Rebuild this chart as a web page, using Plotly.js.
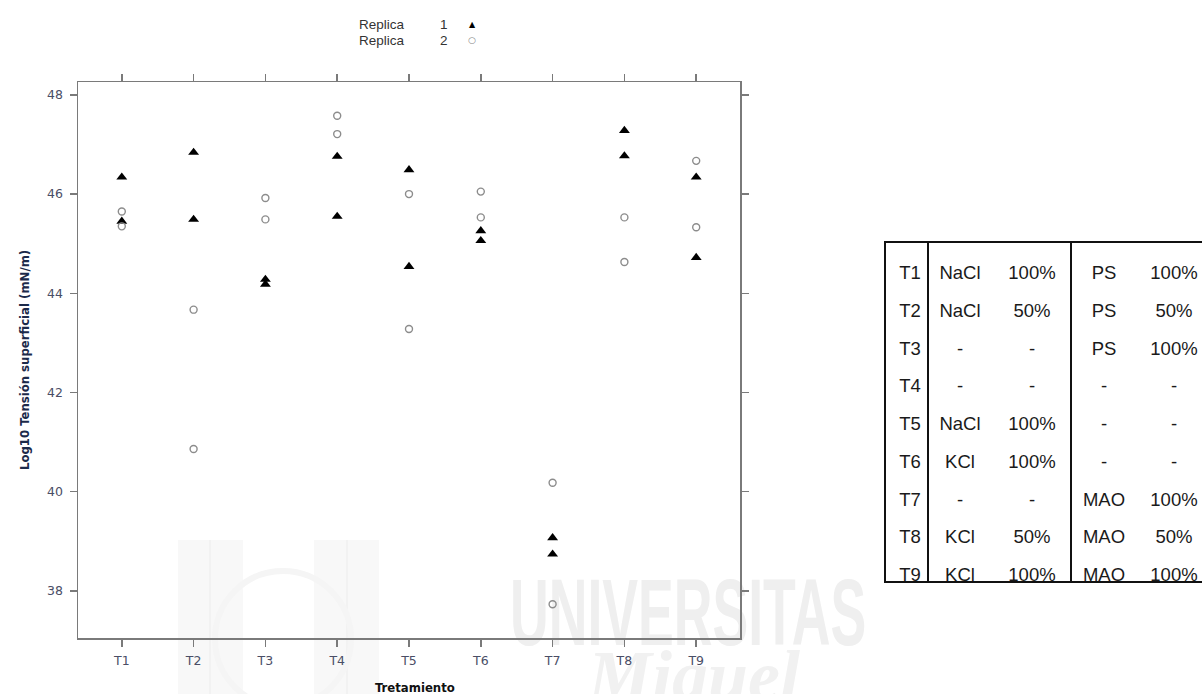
<!DOCTYPE html>
<html><head><meta charset="utf-8">
<script src="https://cdn.plot.ly/plotly-3.0.1.min.js"></script>
<style>
html,body{margin:0;padding:0;background:#fff;width:1202px;height:694px;overflow:hidden;position:relative;font-family:"Liberation Sans",Arial,sans-serif}
#wm{position:absolute;left:0;top:0;width:1202px;height:694px;z-index:0;overflow:hidden}
#plot{position:absolute;left:0;top:0;width:1202px;height:694px;z-index:1}
#tbl{position:absolute;left:0;top:0;width:1202px;height:694px;z-index:2;pointer-events:none}
.wmtxt{position:absolute;white-space:nowrap;color:#efefef;font-family:"Liberation Sans",Arial,sans-serif;font-weight:bold;transform-origin:0 0;line-height:1}
.cell{position:absolute;transform:translate(-50%,-50%);font-family:"Liberation Sans",Arial,sans-serif;font-size:18.5px;color:#1a1a1a;white-space:nowrap}
.ln{position:absolute;background:#111}
</style></head>
<body>
<div id="wm">
  <div style="position:absolute;left:178px;top:540px;width:65px;height:160px;background:#f8f8f8"></div>
  <div style="position:absolute;left:209px;top:540px;width:2px;height:160px;background:#f2f2f2"></div>
  <div style="position:absolute;left:314px;top:540px;width:65px;height:160px;background:#f8f8f8"></div>
  <div style="position:absolute;left:346px;top:540px;width:2px;height:160px;background:#f2f2f2"></div>
  <div style="position:absolute;left:212px;top:568px;width:130px;height:130px;border-radius:50%;border:6px solid #f5f5f5"></div>
  <div class="wmtxt" style="left:510px;top:566px;font-size:94px;transform:scaleX(0.57)">UNIVERSITAS</div>
  <div class="wmtxt" style="left:588px;top:640px;font-size:72px;font-style:italic;font-family:'Liberation Serif',serif;color:#f1f1f1">Miguel</div>
</div>
<div id="plot"></div>
<div id="tbl"></div>
<script>
// ---- chart data ----
const categorias = ['T1','T2','T3','T4','T5','T6','T7','T8','T9'];
// Replica 1 (filled triangles): two readings per treatment
const replica1A = [46.34, 46.84, 44.28, 46.76, 46.49, 45.26, 39.07, 47.28, 46.34];
const replica1B = [45.45, 45.49, 44.18, 45.55, 44.54, 45.06, 38.74, 46.77, 44.72];
// Replica 2 (open circles): two readings per treatment
const replica2A = [45.65, 43.67, 45.92, 47.58, 46.00, 46.05, 40.18, 45.53, 46.67];
const replica2B = [45.35, 40.86, 45.49, 47.21, 43.28, 45.53, 37.73, 44.63, 45.33];
const yTicks = [38, 40, 42, 44, 46, 48];
const legendLabels = ['Replica', 'Replica'];
const legendNums = ['1', '2'];

// ---- table data ----
const tabTrat = ['T1','T2','T3','T4','T5','T6','T7','T8','T9'];
const tabSal = ['NaCl','NaCl','-','-','NaCl','KCl','-','KCl','KCl'];
const tabSalPct = ['100%','50%','-','-','100%','100%','-','50%','100%'];
const tabAgente = ['PS','PS','PS','-','-','-','MAO','MAO','MAO'];
const tabAgentePct = ['100%','50%','100%','-','-','-','100%','50%','100%'];

const xs = categorias.concat(categorias);
const traces = [
  {type:'scatter', mode:'markers', x: xs, y: replica1A.concat(replica1B),
   marker:{symbol:'triangle-up', size:9.5, color:'#000'}, hoverinfo:'x+y', showlegend:false},
  {type:'scatter', mode:'markers', x: xs, y: replica2A.concat(replica2B),
   marker:{symbol:'circle-open', size:7, color:'#8c8c8c', line:{width:1.4, color:'#8c8c8c'}}, hoverinfo:'x+y', showlegend:false}
];

const L = 78, R = 740, T = 82, B = 638;
const pw = R - L, ph = B - T;
const px = v => (v - L) / pw;
const py = v => (B - v) / ph;

const ann = [];
ann.push({text:'Log10 Tensión superficial (mN/m)', textangle:-90, xref:'paper', yref:'paper',
  x:px(24), y:py(360), showarrow:false, xanchor:'center', yanchor:'middle',
  font:{family:'DejaVu Sans Condensed, DejaVu Sans, sans-serif', size:13, color:'#1c2a4a', weight:'bold'}});
ann.push({text:'Tretamiento', xref:'paper', yref:'paper', x:px(415), y:py(688), showarrow:false,
  xanchor:'center', yanchor:'middle',
  font:{family:'DejaVu Sans Condensed, DejaVu Sans, sans-serif', size:13, color:'#111', weight:'bold'}});
const rowY = [24.5, 40];
const syms = ['▲','○'];
const symCol = ['#000','#888'];
for (let i = 0; i < 2; i++) {
  ann.push({text:legendLabels[i], xref:'paper', yref:'paper', x:px(407), y:py(rowY[i]), showarrow:false,
    xanchor:'right', yanchor:'middle', font:{family:'Liberation Sans, Arial, sans-serif', size:13.5, color:'#333'}});
  ann.push({text:legendNums[i], xref:'paper', yref:'paper', x:px(444), y:py(rowY[i]), showarrow:false,
    xanchor:'center', yanchor:'middle', font:{family:'Liberation Sans, Arial, sans-serif', size:13.5, color:'#333'}});
  ann.push({text:syms[i], xref:'paper', yref:'paper', x:px(472), y:py(rowY[i]), showarrow:false,
    xanchor:'center', yanchor:'middle', font:{family:'DejaVu Sans, sans-serif', size:i===0?8:9, color:symCol[i]}});
}

const axCommon = {showline:true, linecolor:'#7a7a7a', linewidth:1.5, mirror:'allticks', ticks:'outside',
  ticklen:7, tickcolor:'#7a7a7a', tickwidth:1.5, showgrid:false, zeroline:false,
  tickfont:{family:'DejaVu Sans, sans-serif', size:12.5, color:'#4a4e66'}};

const layout = {
  width:1202, height:694,
  margin:{l:L, r:1202-R, t:T, b:694-B, pad:0},
  paper_bgcolor:'rgba(0,0,0,0)', plot_bgcolor:'rgba(0,0,0,0)',
  showlegend:false,
  xaxis: Object.assign({}, axCommon, {type:'category', categoryorder:'array', categoryarray:categorias,
    range:[-0.61, 8.61], fixedrange:true, ticklabelstandoff:3}),
  yaxis: Object.assign({}, axCommon, {range:[37.05, 48.26], tickvals:yTicks, ticktext:yTicks.map(String),
    fixedrange:true, ticklabelstandoff:4}),
  annotations: ann
};

Plotly.newPlot('plot', traces, layout, {displayModeBar:false, staticPlot:true});

// ---- side table ----
const tbl = document.getElementById('tbl');
const colX = [910, 960, 1032, 1104, 1174];
const row0 = 273, rowStep = 37.75;
const cols = [tabTrat, tabSal, tabSalPct, tabAgente, tabAgentePct];
cols.forEach((col, j) => {
  col.forEach((txt, i) => {
    const d = document.createElement('div');
    d.className = 'cell';
    d.style.left = colX[j] + 'px';
    d.style.top = (row0 + i * rowStep) + 'px';
    d.textContent = txt;
    tbl.appendChild(d);
  });
});
function line(l, t, w, h) {
  const d = document.createElement('div');
  d.className = 'ln';
  d.style.left = l + 'px'; d.style.top = t + 'px'; d.style.width = w + 'px'; d.style.height = h + 'px';
  tbl.appendChild(d);
}
line(884, 241, 318, 2);   // top
line(884, 581, 318, 2);   // bottom
line(884, 241, 2, 342);   // left
line(927, 241, 2, 342);   // after treatment column
line(1070, 241, 2, 342);  // between groups
</script>
</body></html>
